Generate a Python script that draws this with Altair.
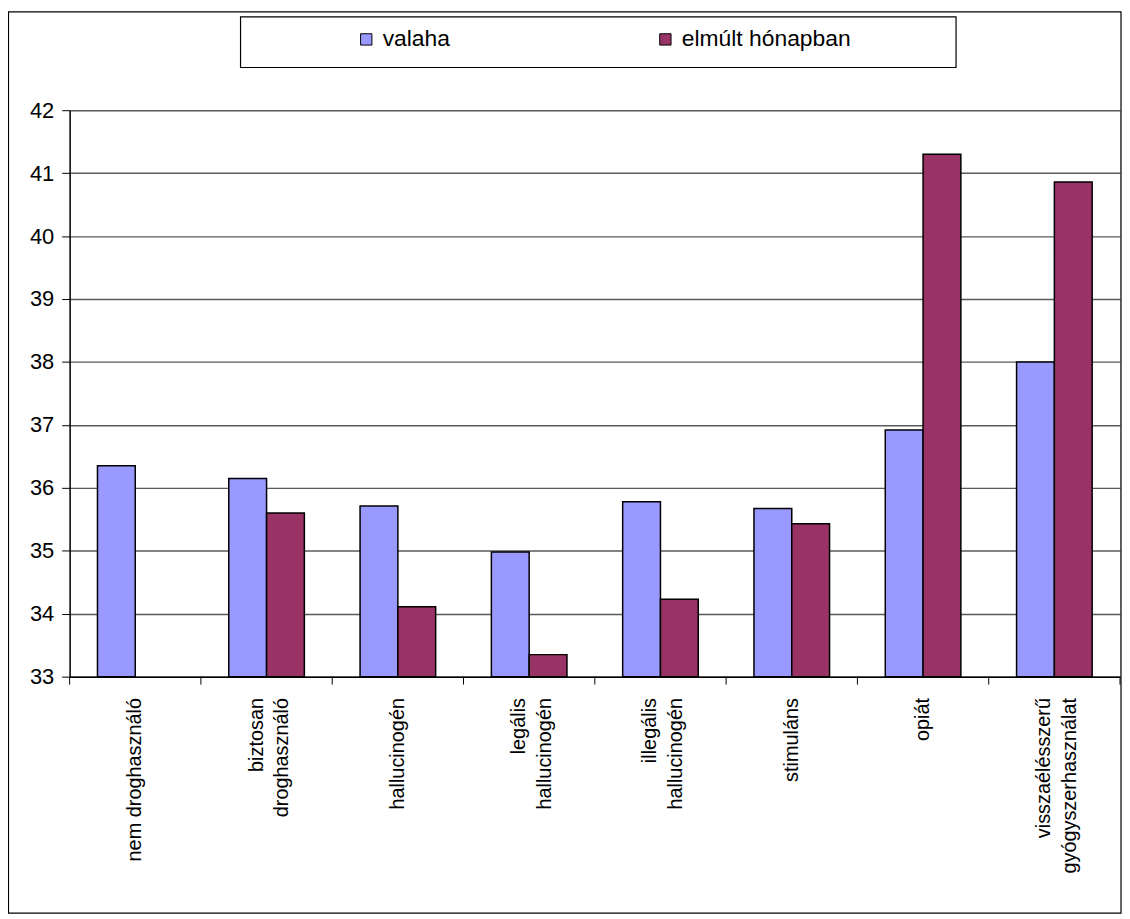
import altair as alt
import pandas as pd

categories = ["nem droghasználó", "biztosan droghasználó", "hallucinogén",
              "legális hallucinogén", "illegális hallucinogén", "stimuláns",
              "opiát", "visszaélésszerű gyógyszerhasználat"]
axis_labels = ["nem droghasználó", "biztosan\ndroghasználó", "hallucinogén",
               "legális\nhallucinogén", "illegális\nhallucinogén", "stimuláns",
               "opiát", "visszaélésszerű\ngyógyszerhasználat"]
series = ["valaha", "elmúlt hónapban"]
valaha = [36.35, 36.15, 35.71, 34.98, 35.78, 35.67, 36.92, 38.00]
elmult = [None, 35.60, 34.11, 33.35, 34.23, 35.43, 41.30, 40.86]
colors = ["#9999FF", "#993366"]
y_ticks = list(range(33, 43))

rows = []
for c, lab, v, e in zip(categories, axis_labels, valaha, elmult):
    if v is not None:
        rows.append({"cat": lab, "series": series[0], "value": v})
    if e is not None:
        rows.append({"cat": lab, "series": series[1], "value": e})
df = pd.DataFrame(rows)
cat_df = pd.DataFrame({"cat": axis_labels})

W, H = 1057, 570
FONT = "Liberation Sans"

x_scale = alt.Scale(domain=axis_labels, paddingInner=0, paddingOuter=0)
x_axis = alt.Axis(labelAngle=-90, labelExpr="split(datum.label, '\\n')",
                  labelFontSize=20, labelFont=FONT, labelColor="black",
                  ticks=False, labelPadding=21, domainColor="black",
                  domainWidth=1.5, labelLineHeight=26, grid=False, labelLimit=300,
                  labelOffset={"condition": {"test": "indexof(datum.value, '\\n') >= 0", "value": -10},
                               "value": 0})

bars = alt.Chart(df).mark_bar(stroke="black", strokeWidth=1.5).encode(
    x=alt.X("cat:N", scale=x_scale, sort=axis_labels, title=None, axis=x_axis),
    xOffset=alt.XOffset("series:N", scale=alt.Scale(domain=series, paddingInner=0, paddingOuter=0.737)),
    y=alt.Y("value:Q", scale=alt.Scale(domain=[33, 42], zero=False, nice=False), title=None,
            axis=alt.Axis(values=y_ticks, labelFontSize=22, labelFont=FONT, labelColor="black",
                          tickSize=8, tickColor="black", labelPadding=8,
                          domainColor="black", domainWidth=1.5,
                          gridColor="#5a5a5a", gridWidth=1.4)),
    y2=alt.datum(33),
    color=alt.Color("series:N", scale=alt.Scale(domain=series, range=colors),
                    legend=alt.Legend(orient="none", legendX=287, legendY=-83,
                                      direction="horizontal", title=None,
                                      labelFontSize=23, labelFont=FONT, labelColor="black",
                                      labelLimit=400,
                                      symbolType="square", symbolSize=130,
                                      symbolStrokeColor="black", symbolStrokeWidth=1,
                                      symbolOpacity=1, columnPadding=205, labelOffset=5)),
)

ticks = alt.Chart(cat_df).mark_rule(color="black", strokeWidth=1).encode(
    x=alt.X("cat:N", scale=x_scale, sort=axis_labels, bandPosition=0, title=None, axis=x_axis),
    y=alt.value(H),
    y2=alt.value(H + 8),
)
end_tick = alt.Chart(pd.DataFrame({"a": [0]})).mark_rule(color="black", strokeWidth=1).encode(
    x=alt.value(W), y=alt.value(H), y2=alt.value(H + 8)
)

frame = alt.Chart(pd.DataFrame({"a": [0]})).mark_rect(fill="transparent", stroke="black", strokeWidth=1.2).encode(
    x=alt.value(-61.5), x2=alt.value(1058), y=alt.value(-99), y2=alt.value(808)
)
legend_box = alt.Chart(pd.DataFrame({"a": [0]})).mark_rect(fill="white", stroke="black", strokeWidth=1.2).encode(
    x=alt.value(172), x2=alt.value(892), y=alt.value(-94), y2=alt.value(-43)
)

chart = alt.layer(frame, legend_box, bars, ticks, end_tick).properties(
    width=W, height=H,
    autosize=alt.AutoSizeParams(type="none"),
    padding={"left": 62, "top": 100, "right": 2, "bottom": 239},
).configure_view(
    fill="#C0C0C0", stroke="#808080", strokeWidth=1.5
).configure(background="white", font=FONT)

chart.save("out.html", embed_options={"renderer": "svg", "actions": False})
